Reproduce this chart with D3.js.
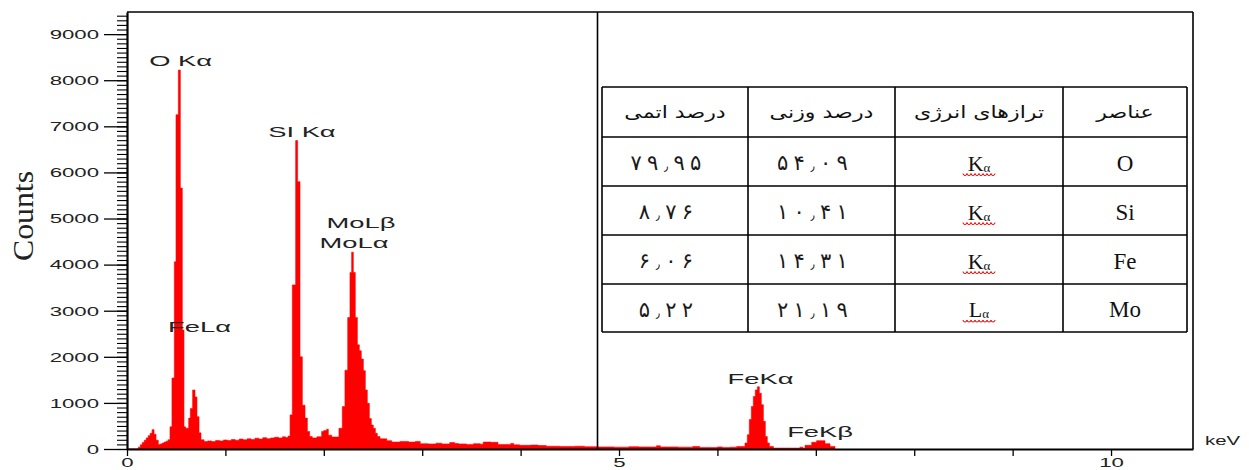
<!DOCTYPE html>
<html>
<head>
<meta charset="utf-8">
<script src="https://cdn.jsdelivr.net/npm/d3@7"></script>
<style>
  body { margin: 0; background: #fff; }
  svg { display: block; }
</style>
</head>
<body>
<svg id="chart" width="1249" height="470"></svg>
<script>
// EDS spectrum: start energy of each channel group (keV) and its counts
const energyKeV = [
  0, 0.115, 0.135, 0.155, 0.175, 0.195, 0.215, 0.235, 0.255, 0.275, 0.295, 0.318, 0.338, 0.358, 0.378, 0.398, 0.418,
  0.437, 0.457, 0.481, 0.498, 0.522, 0.542, 0.562, 0.579, 0.596, 0.627, 0.644, 0.667, 0.691, 0.711, 0.732, 0.752, 0.783,
  0.82, 0.86, 0.90, 0.94, 0.98, 1.02, 1.06, 1.10, 1.14, 1.18, 1.22, 1.26, 1.30, 1.34, 1.38, 1.42, 1.46, 1.50, 1.54, 1.58, 1.61, 1.637,
  1.657, 1.680, 1.714, 1.734, 1.758, 1.782, 1.809, 1.833, 1.856, 1.883, 1.93, 1.978, 2.00, 2.029, 2.046, 2.08, 2.114,
  2.154, 2.188, 2.215, 2.243, 2.266, 2.283, 2.300, 2.320, 2.341, 2.361, 2.381, 2.402, 2.422, 2.442, 2.463, 2.483, 2.503, 2.524, 2.544, 2.571,
  2.64, 2.69, 2.775, 2.86, 2.93, 2.98, 3.06, 3.14, 3.20, 3.28, 3.33, 3.37, 3.45, 3.52, 3.59, 3.62, 3.70, 3.77, 3.85, 3.90, 3.93, 3.99,
  4.10, 4.18, 4.26, 4.40, 4.55, 4.65, 4.79, 4.95, 5.10, 5.20, 5.38, 5.42, 5.60, 5.75, 5.82, 5.95, 6.00, 6.05, 6.13,
  6.196, 6.280, 6.304, 6.324, 6.345, 6.365, 6.385, 6.406, 6.426, 6.446, 6.467, 6.487, 6.507, 6.528, 6.569,
  6.839, 6.87, 6.890, 6.958, 7.008, 7.093, 7.144, 7.195
];
const counts = [
  0, 40, 90, 140, 190, 240, 290, 340, 420, 320, 190, 100, 110, 130, 150, 170, 200,
  480, 1540, 4060, 7250, 8220, 5660, 2580, 480, 450, 670, 880, 1280, 1130, 700, 350, 200, 160,
  175, 160, 185, 175, 195, 185, 205, 190, 215, 200, 220, 205, 235, 215, 245, 225, 240, 255, 240, 265, 250, 280,
  740, 3560, 6690, 5800, 2000, 950, 670, 380, 270, 240, 265, 380, 400, 430, 300, 260, 260,
  450, 920, 1710, 2850, 3830, 4270, 3830, 2850, 2260, 2130, 1950, 1700, 1280, 990, 660, 520, 450, 340, 270, 220,
  180, 150, 165, 150, 165, 115, 110, 125, 110, 140, 120, 110, 100, 115, 105, 150, 145, 95, 100, 120, 90, 80,
  85, 75, 60, 55, 60, 50, 45, 40, 50, 45, 70, 45, 40, 55, 35, 30, 45, 35, 40,
  55, 130, 310, 640, 920, 1140, 1280, 1350, 1210, 960, 600, 270, 130, 55, 20,
  40, 15, 80, 145, 180, 115, 55, 0
];

// Axis ticks
const yMajorTicks = [0, 1000, 2000, 3000, 4000, 5000, 6000, 7000, 8000, 9000];
const yMinorTicks = d3.range(0, 9500, 100);
const xTicks = [0, 1, 2, 3, 4, 5, 6, 7, 8, 9, 10];
const xTickLabels = ["0", "", "", "", "", "5", "", "", "", "", "10"];

// Peak identifications: name, energy (keV), label baseline (counts)
const peakNames = ["O Kα", "SI Kα", "FeLα", "MoLβ", "MoLα", "FeKα", "FeKβ"];
const peakKeV = [0.544, 1.778, 0.737, 2.378, 2.307, 6.438, 7.043];
const peakLabelCounts = [8300, 6760, 2545, 4785, 4350, 1410, 260];

// Composition table
const tableHeaders = ["درصد اتمی", "درصد وزنی", "ترازهای انرژی", "عناصر"];
const atomicPct = [79.95, 8.76, 6.06, 5.22];
const weightPct = [54.09, 10.41, 14.31, 21.19];
const levelLetters = ["K", "K", "K", "L"];
const elements = ["O", "Si", "Fe", "Mo"];

const svg = d3.select("#chart");
const plotLeft = 127, plotRight = 1193, plotTop = 12, plotBottom = 449;

const x = d3.scaleLinear().domain([0, 10.833]).range([plotLeft, plotRight]);
const y = d3.scaleLinear().domain([0, 9480]).range([plotBottom, plotTop]);

// spectrum
const spectrum = energyKeV.map((e, i) => ({ e, c: counts[i] }));
const area = d3.area()
  .x(d => x(d.e))
  .y0(y(0))
  .y1(d => y(d.c))
  .curve(d3.curveStepAfter);
svg.append("path")
  .datum(spectrum)
  .attr("d", area)
  .attr("fill", "#ff0000")
  .attr("stroke", "#ff0000")
  .attr("stroke-width", 0.6);

// frame
const frame = svg.append("g").attr("stroke", "#000").attr("fill", "none");
frame.append("line").attr("x1", plotLeft).attr("x2", plotRight).attr("y1", plotTop).attr("y2", plotTop).attr("stroke-width", 1.6);
frame.append("line").attr("x1", plotRight).attr("x2", plotRight).attr("y1", plotTop).attr("y2", plotBottom).attr("stroke-width", 1.6);
frame.append("line").attr("x1", 597.5).attr("x2", 597.5).attr("y1", plotTop).attr("y2", plotBottom).attr("stroke-width", 1.6);

// y axis: minor ticks
svg.append("g")
  .attr("transform", `translate(${plotLeft},0)`)
  .call(d3.axisLeft(y).tickValues(yMinorTicks).tickSize(10).tickSizeOuter(0).tickFormat(""))
  .call(g => g.select(".domain").attr("stroke-width", 2.2))
  .call(g => g.selectAll(".tick line").attr("stroke-width", 1.1));

// y axis: major ticks with labels
svg.append("g")
  .attr("transform", `translate(${plotLeft},0)`)
  .call(d3.axisLeft(y).tickValues(yMajorTicks).tickSize(23).tickSizeOuter(0).tickFormat(d3.format("d")))
  .call(g => g.select(".domain").remove())
  .call(g => g.selectAll(".tick line").attr("stroke-width", 1.3))
  .call(g => g.selectAll(".tick text")
    .attr("x", null).attr("dy", null)
    .attr("transform", "translate(-28,4.3) scale(1.85,1)")
    .attr("text-anchor", "end")
    .attr("fill", "#222")
    .style("font-family", "'Liberation Sans', Arial, sans-serif")
    .style("font-size", "12px"));

// x axis
svg.append("g")
  .attr("transform", `translate(0,${plotBottom})`)
  .call(d3.axisBottom(x).tickValues(xTicks).tickSize(7).tickSizeOuter(0).tickFormat((d, i) => xTickLabels[i]))
  .call(g => g.select(".domain").attr("stroke-width", 1.8))
  .call(g => g.selectAll(".tick line").attr("stroke-width", 1.3))
  .call(g => g.selectAll(".tick text")
    .attr("y", null).attr("dy", null)
    .attr("transform", "translate(0,18) scale(1.85,1)")
    .attr("fill", "#222")
    .style("font-family", "'Liberation Sans', Arial, sans-serif")
    .style("font-size", "12px"));

svg.append("text")
  .attr("transform", "translate(1205,445) scale(1.7,1)")
  .attr("fill", "#222")
  .style("font-family", "'Liberation Sans', Arial, sans-serif")
  .style("font-size", "12px")
  .text("keV");

// y title
svg.append("text")
  .attr("transform", "translate(33,216) rotate(-90)")
  .attr("text-anchor", "middle")
  .attr("textLength", 90)
  .attr("lengthAdjust", "spacingAndGlyphs")
  .attr("fill", "#222")
  .style("font-family", "'Liberation Serif', 'Times New Roman', serif")
  .style("font-size", "30px")
  .text("Counts");

// peak labels
svg.append("g").selectAll("text")
  .data(peakNames)
  .join("text")
  .attr("transform", (d, i) => `translate(${x(peakKeV[i])},${y(peakLabelCounts[i])}) scale(1.95,1)`)
  .attr("text-anchor", "middle")
  .attr("fill", "#222")
  .style("font-family", "'Liberation Sans', Arial, sans-serif")
  .style("font-size", "14px")
  .text(d => d);

// composition table
const colX = [602, 748, 895, 1063, 1187];
const rowY = [87, 137, 186, 235, 284, 332];
const table = svg.append("g");
table.append("rect")
  .attr("x", colX[0] - 1).attr("y", rowY[0] - 1)
  .attr("width", colX[4] - colX[0] + 2).attr("height", rowY[5] - rowY[0] + 2)
  .attr("fill", "#fff");
const grid = table.append("g").attr("stroke", "#000").attr("stroke-width", 1.6);
colX.forEach(cx => grid.append("line").attr("x1", cx).attr("x2", cx).attr("y1", rowY[0]).attr("y2", rowY[5]));
rowY.forEach(ry => grid.append("line").attr("x1", colX[0]).attr("x2", colX[4]).attr("y1", ry).attr("y2", ry));

const colMid = i => (colX[i] + colX[i + 1]) / 2;
const rowMid = r => (rowY[r] + rowY[r + 1]) / 2;
const persian = v => v.toFixed(2).replace(".", "٫").replace(/[0-9]/g, c => "۰۱۲۳۴۵۶۷۸۹"[+c]);

table.selectAll("text.head")
  .data(tableHeaders)
  .join("text")
  .attr("class", "head")
  .attr("transform", (d, i) => `translate(${colMid(i)},${rowMid(0) + 6}) scale(1.3,1)`)
  .attr("text-anchor", "middle")
  .attr("direction", "rtl")
  .attr("fill", "#111")
  .style("font-family", "'DejaVu Sans', sans-serif")
  .style("font-size", "17px")
  .text(d => d);

// percentages laid out glyph by glyph: wide digit slots, narrow decimal separator
const digitSlot = 16.5, sepSlot = 10;
[atomicPct, weightPct].forEach((vals, ci) => {
  vals.forEach((v, r) => {
    const chars = [...persian(v)];
    const adv = chars.map(c => (c === "٫" ? sepSlot : digitSlot));
    const total = d3.sum(adv);
    const start = colMid(ci) - 9 - total / 2;
    const centers = adv.map((a, k) => start + d3.sum(adv.slice(0, k)) + a / 2);
    table.append("g").selectAll("text")
      .data(chars)
      .join("text")
      .attr("x", (c, k) => centers[k])
      .attr("y", c => rowMid(r + 1) + (c === "٫" ? 9.5 : 8.5))
      .attr("text-anchor", "middle")
      .attr("fill", "#1a1a1a")
      .style("font-family", "'DejaVu Sans', sans-serif")
      .style("font-size", c => (c === "٫" ? "13px" : "21px"))
      .text(c => c);
  });
});

const lv = table.selectAll("text.level")
  .data(levelLetters)
  .join("text")
  .attr("class", "level")
  .attr("x", colMid(2))
  .attr("y", (d, r) => rowMid(r + 1) + 9)
  .attr("text-anchor", "middle")
  .attr("fill", "#111")
  .style("font-family", "'Liberation Serif', 'Times New Roman', serif")
  .style("font-size", "22px");
lv.append("tspan").text(d => d);
lv.append("tspan").attr("dy", 1).style("font-size", "13px").text("α");

// red spell-check squiggle under the level symbols
levelLetters.forEach((d, r) => {
  const y0 = rowMid(r + 1) + 12;
  const x0 = colMid(2) - 16;
  let p = `M${x0},${y0}`;
  for (let k = 0; k < 8; k++) p += ` a2,2 0 0 0 4,0`;
  table.append("path").attr("d", p).attr("fill", "none").attr("stroke", "#e00").attr("stroke-width", 1);
});

table.selectAll("text.elem")
  .data(elements)
  .join("text")
  .attr("class", "elem")
  .attr("x", colMid(3))
  .attr("y", (d, r) => rowMid(r + 1) + 9)
  .attr("text-anchor", "middle")
  .attr("fill", "#111")
  .style("font-family", "'Liberation Serif', 'Times New Roman', serif")
  .style("font-size", "23px")
  .text(d => d);
</script>
</body>
</html>
